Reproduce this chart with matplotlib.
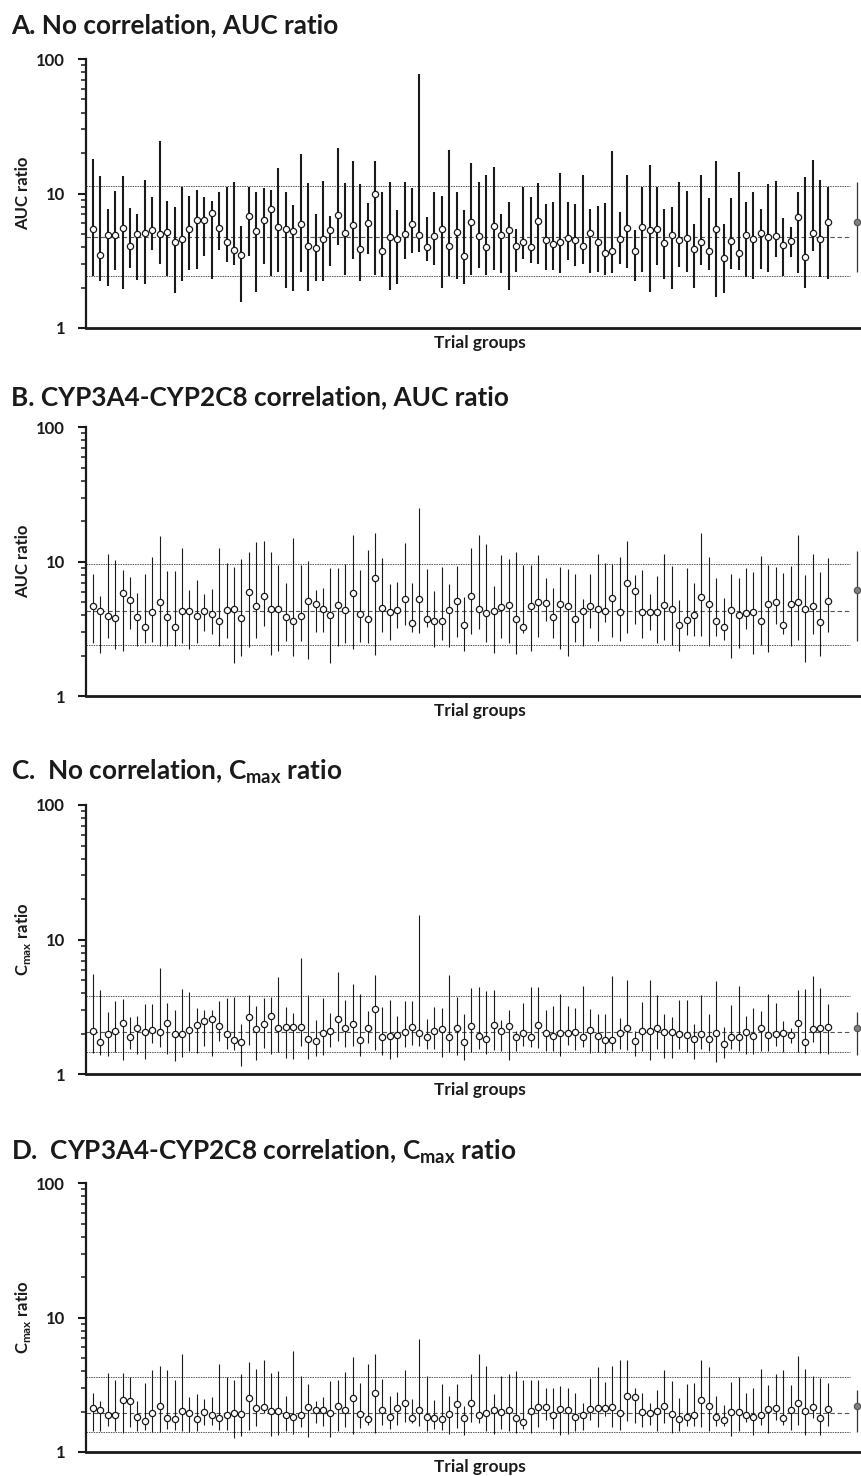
import numpy as np
import matplotlib
matplotlib.use('Agg')
import matplotlib.pyplot as plt

plt.rcParams['font.family'] = ['Lato', 'DejaVu Sans']
plt.rcParams['font.weight'] = 'bold'
plt.rcParams['mathtext.fontset'] = 'custom'
plt.rcParams['mathtext.rm'] = 'Lato:bold'
plt.rcParams['mathtext.bf'] = 'Lato:bold'

# 100 trial groups + observed value at the right end
groups = np.arange(1, 101)
obs_x = 104

# A. No correlation, AUC ratio
a_mid = [5.47, 3.47, 4.88, 4.88, 5.57, 4.10, 5.00, 5.06, 5.38, 5.00,
         5.18, 4.36, 4.59, 5.44, 6.35, 6.32, 7.12, 5.54, 4.38, 3.78,
         3.51, 6.77, 5.23, 6.35, 7.71, 5.60, 5.44, 5.26, 5.97, 4.10,
         3.94, 4.57, 5.38, 6.88, 5.12, 5.83, 3.86, 6.00, 9.98, 3.73,
         4.72, 4.57, 4.97, 5.90, 4.88, 3.98, 4.83, 5.47, 4.05, 5.18,
         3.45, 6.18, 4.86, 4.00, 5.77, 4.91, 5.32, 4.10, 4.38, 4.03,
         6.25, 4.54, 4.22, 4.34, 4.67, 4.51, 4.05, 5.06, 4.34, 3.63,
         3.73, 4.57, 5.54, 3.71, 5.60, 5.38, 5.44, 4.29, 4.91, 4.51,
         4.69, 3.86, 4.36, 3.76, 5.47, 3.30, 4.44, 3.59, 4.91, 4.57,
         5.09, 4.77, 4.80, 4.15, 4.44, 6.69, 3.39, 5.09, 4.57, 6.11]
a_hi = [18.0, 13.6, 7.71, 10.5, 13.6, 7.85, 7.08, 12.5, 9.48, 24.7,
        8.85, 7.98, 11.2, 9.64, 10.7, 9.48, 8.85, 10.2, 11.2, 12.1,
        5.77, 11.1, 10.2, 10.9, 10.7, 15.6, 10.3, 8.26, 19.8, 11.9,
        7.08, 12.3, 6.85, 21.9, 11.9, 17.4, 11.7, 8.55, 17.4, 10.2,
        12.1, 7.58, 12.1, 10.9, 77.8, 6.73, 10.3, 9.64, 21.2, 10.2,
        7.58, 17.0, 12.1, 13.8, 15.8, 7.08, 8.70, 5.47, 11.1, 9.48,
        11.9, 8.40, 8.70, 14.3, 8.70, 8.40, 13.8, 7.71, 8.12, 8.55,
        20.8, 7.32, 13.8, 5.38, 11.1, 16.4, 11.2, 7.71, 7.98, 12.1,
        10.5, 5.97, 13.8, 9.32, 17.5, 5.97, 9.32, 14.5, 8.70, 10.2,
        7.71, 11.7, 12.3, 6.62, 5.67, 10.3, 13.3, 17.8, 12.5, 11.2]
a_lo = [2.45, 2.23, 2.07, 2.68, 1.94, 2.77, 2.26, 2.11, 3.78, 2.97,
        2.42, 1.81, 2.23, 2.68, 2.73, 3.41, 2.30, 3.78, 3.08, 2.92,
        1.55, 3.41, 1.84, 2.97, 2.42, 2.63, 1.97, 1.88, 2.59, 1.88,
        2.23, 2.23, 2.87, 4.12, 2.47, 3.24, 2.23, 3.53, 2.49, 2.38,
        1.91, 2.11, 3.24, 3.59, 3.67, 3.13, 2.92, 1.98, 2.45, 2.30,
        2.11, 2.49, 2.77, 2.47, 2.68, 2.55, 1.91, 2.59, 3.24, 3.02,
        2.97, 2.68, 2.68, 2.55, 3.18, 2.87, 2.97, 2.55, 2.59, 2.47,
        2.55, 2.97, 2.77, 2.23, 2.63, 1.84, 2.92, 2.30, 1.94, 2.82,
        2.59, 1.98, 2.92, 2.68, 1.69, 1.81, 2.73, 2.68, 2.38, 2.30,
        2.73, 2.63, 3.35, 2.42, 3.35, 2.55, 2.00, 3.71, 2.38, 2.30]
a_obs = [6.18, 2.59, 12.15]
a_ref = [11.3, 4.71, 2.45]

# B. CYP3A4-CYP2C8 correlation, AUC ratio
b_mid = [4.69, 4.31, 3.94, 3.82, 5.90, 5.20, 3.92, 3.30, 4.22, 5.03,
         3.86, 3.28, 4.29, 4.34, 3.94, 4.29, 4.08, 3.65, 4.36, 4.44,
         3.80, 5.93, 4.69, 5.54, 4.44, 4.44, 3.92, 3.61, 3.96, 5.09,
         4.83, 4.46, 4.03, 4.80, 4.41, 5.83, 4.12, 3.76, 7.62, 4.54,
         4.20, 4.38, 5.29, 3.51, 5.29, 3.76, 3.61, 3.61, 4.41, 5.14,
         3.41, 5.60, 4.46, 4.15, 4.29, 4.59, 4.80, 3.78, 3.26, 4.67,
         5.00, 4.97, 3.90, 4.83, 4.69, 3.78, 4.29, 4.67, 4.44, 4.34,
         5.41, 4.24, 7.00, 6.11, 4.27, 4.22, 4.27, 4.77, 4.44, 3.41,
         3.67, 4.05, 5.47, 4.88, 3.65, 3.26, 4.38, 4.05, 4.15, 4.20,
         3.65, 4.83, 5.06, 3.41, 4.88, 5.06, 4.49, 4.72, 3.59, 5.09]
b_hi = [8.12, 5.57, 11.4, 10.3, 8.70, 7.71, 5.87, 8.12, 10.9, 15.6,
        8.55, 8.55, 12.7, 6.18, 7.32, 5.77, 6.28, 12.7, 9.80, 9.16,
        10.5, 11.9, 14.1, 14.3, 11.9, 9.48, 6.96, 15.0, 9.48, 10.2,
        6.18, 6.39, 9.00, 9.00, 9.64, 15.8, 8.70, 12.3, 16.4, 10.7,
        6.85, 7.08, 13.8, 6.96, 25.1, 8.85, 6.07, 9.16, 6.85, 9.32,
        5.47, 12.7, 15.8, 13.6, 6.62, 11.2, 10.5, 11.9, 9.48, 9.48,
        11.2, 7.58, 6.39, 9.16, 8.85, 8.12, 5.29, 8.12, 11.4, 9.80,
        9.64, 10.9, 14.3, 7.98, 8.70, 5.77, 7.85, 11.4, 9.32, 5.20,
        9.00, 6.96, 16.4, 10.9, 7.58, 5.38, 8.12, 7.58, 9.00, 8.40,
        11.1, 9.48, 9.16, 8.26, 9.32, 15.8, 7.98, 11.4, 8.40, 10.7]
b_lo = [2.51, 2.11, 2.73, 2.26, 2.19, 3.18, 2.38, 2.51, 2.55, 2.38,
        2.38, 2.38, 2.51, 2.23, 2.51, 3.08, 2.92, 2.38, 2.73, 1.78,
        1.98, 2.34, 2.73, 3.35, 2.04, 2.19, 2.59, 2.00, 2.59, 1.88,
        3.02, 3.02, 1.78, 2.38, 2.51, 2.26, 2.55, 2.51, 2.04, 3.02,
        2.63, 3.24, 3.41, 3.02, 2.97, 3.30, 2.34, 2.63, 2.34, 2.77,
        2.19, 2.92, 3.18, 2.55, 2.11, 2.73, 2.51, 2.07, 2.97, 2.19,
        2.77, 3.65, 2.73, 2.23, 2.00, 2.55, 2.38, 3.24, 2.59, 3.59,
        2.77, 2.59, 2.97, 3.47, 2.73, 3.13, 2.47, 2.63, 2.42, 2.19,
        2.87, 2.82, 2.82, 2.38, 2.82, 2.63, 1.94, 2.30, 3.18, 2.07,
        2.42, 2.15, 3.47, 2.92, 2.38, 2.63, 1.81, 2.92, 2.00, 3.02]
b_obs = [6.14, 2.59, 12.1]
b_ref = [9.64, 4.31, 2.40]

# C. No correlation, Cmax ratio
c_mid = [2.11, 1.74, 2.00, 2.10, 2.40, 1.88, 2.20, 2.07, 2.15, 2.07,
         2.42, 2.00, 1.98, 2.15, 2.33, 2.47, 2.58, 2.29, 1.98, 1.81,
         1.73, 2.67, 2.16, 2.38, 2.71, 2.19, 2.26, 2.25, 2.26, 1.83,
         1.76, 2.04, 2.10, 2.56, 2.19, 2.36, 1.80, 2.22, 3.08, 1.89,
         1.92, 1.95, 2.05, 2.26, 2.04, 1.88, 2.10, 2.17, 1.88, 2.19,
         1.73, 2.30, 1.94, 1.84, 2.34, 2.10, 2.27, 1.89, 2.04, 1.88,
         2.34, 2.03, 1.93, 2.04, 2.04, 2.06, 1.88, 2.15, 1.93, 1.80,
         1.79, 2.03, 2.22, 1.78, 2.11, 2.11, 2.22, 2.05, 2.06, 2.00,
         1.97, 1.82, 2.00, 1.84, 2.04, 1.68, 1.90, 1.90, 2.07, 1.93,
         2.22, 1.97, 1.98, 2.02, 1.95, 2.41, 1.74, 2.17, 2.20, 2.24]
c_hi = [5.57, 4.24, 2.89, 3.49, 3.61, 2.65, 2.70, 3.32, 3.32, 6.14,
        3.37, 2.99, 4.29, 4.08, 3.10, 2.99, 2.99, 3.49, 3.67, 3.73,
        2.36, 3.86, 3.20, 3.67, 3.73, 5.29, 3.15, 2.84, 7.32, 3.86,
        2.52, 3.67, 2.84, 5.74, 3.55, 4.67, 3.94, 2.94, 5.47, 3.15,
        3.55, 2.73, 3.49, 3.49, 15.2, 2.56, 3.15, 3.10, 5.47, 3.73,
        2.79, 4.36, 4.44, 4.15, 4.22, 2.52, 2.99, 2.10, 3.37, 4.44,
        4.44, 2.99, 3.20, 3.94, 3.20, 3.10, 4.51, 3.04, 2.79, 2.79,
        5.38, 2.61, 5.00, 2.09, 3.43, 5.00, 3.86, 2.79, 2.65, 3.55,
        3.55, 2.36, 3.86, 2.79, 4.91, 2.24, 3.26, 4.51, 2.70, 3.10,
        2.94, 3.94, 3.37, 2.49, 2.20, 4.22, 4.29, 5.38, 4.36, 3.35]
c_lo = [1.44, 1.39, 1.37, 1.46, 1.28, 1.54, 1.42, 1.30, 1.71, 1.60,
        1.42, 1.26, 1.35, 1.49, 1.44, 1.62, 1.37, 1.78, 1.54, 1.52,
        1.15, 1.65, 1.28, 1.57, 1.42, 1.46, 1.32, 1.30, 1.62, 1.30,
        1.37, 1.39, 1.60, 1.77, 1.60, 1.62, 1.37, 1.71, 1.51, 1.39,
        1.30, 1.35, 1.60, 1.65, 1.62, 1.54, 1.54, 1.35, 1.46, 1.39,
        1.28, 1.46, 1.54, 1.42, 1.52, 1.49, 1.28, 1.49, 1.62, 1.60,
        1.57, 1.49, 1.49, 1.37, 1.65, 1.52, 1.60, 1.44, 1.46, 1.44,
        1.49, 1.54, 1.52, 1.37, 1.49, 1.28, 1.54, 1.32, 1.32, 1.54,
        1.46, 1.30, 1.54, 1.49, 1.23, 1.32, 1.54, 1.49, 1.42, 1.42,
        1.49, 1.49, 1.62, 1.46, 1.71, 1.46, 1.44, 1.74, 1.44, 1.42]
c_obs = [2.21, 1.39, 2.89]
c_ref = [3.82, 2.05, 1.46]

# D. CYP3A4-CYP2C8 correlation, Cmax ratio
d_mid = [2.12, 2.04, 1.89, 1.89, 2.45, 2.38, 1.82, 1.71, 1.96, 2.21,
         1.79, 1.75, 2.02, 1.96, 1.75, 1.97, 1.89, 1.80, 1.89, 1.95,
         1.92, 2.54, 2.13, 2.17, 2.02, 2.02, 1.90, 1.81, 1.89, 2.16,
         2.06, 2.06, 1.95, 2.21, 2.04, 2.51, 1.93, 1.77, 2.76, 2.04,
         1.83, 2.12, 2.33, 1.78, 2.06, 1.82, 1.78, 1.76, 1.93, 2.26,
         1.78, 2.33, 1.90, 1.94, 2.06, 2.00, 2.06, 1.80, 1.68, 2.03,
         2.16, 2.16, 1.88, 2.10, 2.07, 1.82, 1.89, 2.08, 2.11, 2.12,
         2.17, 1.96, 2.63, 2.55, 1.97, 1.94, 2.02, 2.21, 1.92, 1.76,
         1.82, 1.89, 2.45, 2.20, 1.83, 1.74, 1.99, 2.00, 1.90, 1.82,
         1.89, 2.10, 2.11, 1.79, 2.04, 2.33, 2.03, 2.15, 1.80, 2.08]
d_hi = [2.73, 2.38, 3.84, 3.45, 3.84, 3.59, 2.38, 3.24, 4.05, 4.34,
        4.05, 3.41, 5.32, 2.55, 2.68, 2.47, 2.55, 4.49, 3.59, 3.41,
        3.78, 4.64, 4.12, 4.88, 3.84, 3.98, 2.63, 5.60, 3.65, 3.18,
        2.38, 2.55, 3.35, 3.41, 3.92, 5.06, 3.24, 4.49, 5.32, 3.47,
        2.59, 2.82, 4.05, 2.47, 6.88, 3.71, 2.42, 3.18, 2.63, 3.18,
        2.19, 3.78, 5.32, 4.34, 2.68, 3.71, 3.78, 3.98, 3.41, 3.41,
        3.41, 3.02, 3.02, 3.08, 3.02, 2.77, 2.30, 3.53, 4.27, 3.30,
        4.34, 4.80, 4.88, 2.97, 2.73, 2.30, 2.87, 4.05, 3.35, 2.51,
        3.18, 3.24, 4.80, 4.27, 2.59, 2.22, 3.30, 3.59, 2.77, 2.97,
        4.12, 3.13, 3.78, 4.05, 3.13, 5.14, 4.12, 3.65, 3.53, 3.24]
d_lo = [1.43, 1.43, 1.56, 1.43, 1.39, 1.53, 1.43, 1.46, 1.41, 1.41,
        1.48, 1.46, 1.43, 1.41, 1.43, 1.59, 1.59, 1.46, 1.46, 1.27,
        1.32, 1.46, 1.56, 1.95, 1.32, 1.34, 1.43, 1.36, 1.53, 1.29,
        1.64, 1.56, 1.29, 1.43, 1.53, 1.36, 1.51, 1.59, 1.39, 1.59,
        1.48, 1.59, 1.67, 1.64, 1.56, 1.43, 1.48, 1.46, 1.36, 1.51,
        1.34, 1.67, 1.64, 1.43, 1.36, 1.48, 1.43, 1.39, 1.48, 1.39,
        1.53, 1.73, 1.48, 1.34, 1.36, 1.43, 1.46, 1.73, 1.53, 1.86,
        1.53, 1.46, 1.70, 1.64, 1.53, 1.59, 1.43, 1.64, 1.39, 1.43,
        1.56, 1.56, 1.53, 1.43, 1.56, 1.56, 1.32, 1.43, 1.67, 1.34,
        1.59, 1.39, 1.73, 1.59, 1.46, 1.59, 1.34, 1.79, 1.34, 1.56]
d_obs = [2.21, 1.41, 2.87]
d_ref = [3.59, 1.96, 1.42]

# title, ylabel, data, bar width, axes top/bottom and text rows (pixels from top)
panels = [
    ('A. No correlation, AUC ratio', 'AUC ratio',
     a_mid, a_lo, a_hi, a_obs, a_ref, 1.5, 59, 328, 33, 343),
    ('B. CYP3A4-CYP2C8 correlation, AUC ratio', 'AUC ratio',
     b_mid, b_lo, b_hi, b_obs, b_ref, 0.8, 427.3, 696.3, 405, 711),
    ('C.  No correlation, C$_{\\mathrm{max}}$ ratio', 'C$_{\\mathrm{max}}$ ratio',
     c_mid, c_lo, c_hi, c_obs, c_ref, 0.8, 805, 1074.3, 779, 1090),
    ('D.  CYP3A4-CYP2C8 correlation, C$_{\\mathrm{max}}$ ratio', 'C$_{\\mathrm{max}}$ ratio',
     d_mid, d_lo, d_hi, d_obs, d_ref, 0.8, 1183.3, 1452, 1159, 1467),
]

W, H = 861, 1476
fig = plt.figure(figsize=(W / 100, H / 100), dpi=100)
ink = '#1a1a1a'

for title, ylab, mid, lo, hi, obs, ref, bar_lw, top, bot, title_y, xlab_y in panels:
    ax = fig.add_axes([86 / W, 1 - bot / H, (W - 86) / W, (bot - top) / H])
    ax.set_yscale('log')
    ax.set_ylim(1, 100)
    ax.set_xlim(0.06, 104.5)

    # reference lines
    ax.hlines([ref[0], ref[2]], 0.06, 103.0, colors='#555555', lw=0.7,
              linestyles=(0, (1.5, 1.0)), zorder=1)
    ax.hlines(ref[1], 0.06, 103.0, colors='#555555', lw=0.8,
              linestyles=(0, (4, 2.5)), zorder=1)

    # trial groups
    ax.vlines(groups, lo, hi, color=ink, lw=bar_lw, zorder=2)
    ax.plot(groups, mid, 'o', ms=4.5, mfc='white', mec=ink, mew=0.9, zorder=3)

    # observed
    ax.vlines(obs_x, obs[1], obs[2], color='#333333', lw=0.9, zorder=2, clip_on=False)
    ax.plot(obs_x, obs[0], 'o', ms=4.5, mfc='#808080', mec='#555555', mew=0.9,
            zorder=3, clip_on=False)

    ax.spines['top'].set_visible(False)
    ax.spines['right'].set_visible(False)
    ax.spines['left'].set_linewidth(1.6)
    ax.spines['bottom'].set_linewidth(2.0)
    ax.spines['left'].set_color(ink)
    ax.spines['bottom'].set_color(ink)

    ax.set_xticks([])
    ax.set_yticks([1, 10, 100])
    ax.set_yticklabels(['1', '10', '100'])
    ax.yaxis.set_minor_formatter(matplotlib.ticker.NullFormatter())
    ax.tick_params(axis='y', which='major', length=6, width=1.5, pad=9,
                   labelsize=12, colors=ink)
    ax.tick_params(axis='y', which='minor', length=3.5, width=1.1, colors=ink)

    fig.text(11 / W, 1 - title_y / H, title, fontsize=18.8, fontweight='bold',
             va='baseline', ha='left', color=ink)
    fig.text(23 / W, 1 - (top + bot) / 2 / H, ylab, rotation=90, fontsize=12,
             fontweight='bold', ha='center', va='center', color=ink)
    fig.text(480 / W, 1 - xlab_y / H, 'Trial groups', fontsize=12.5,
             fontweight='bold', ha='center', va='center', color=ink)

fig.savefig('out.png', dpi=100)
